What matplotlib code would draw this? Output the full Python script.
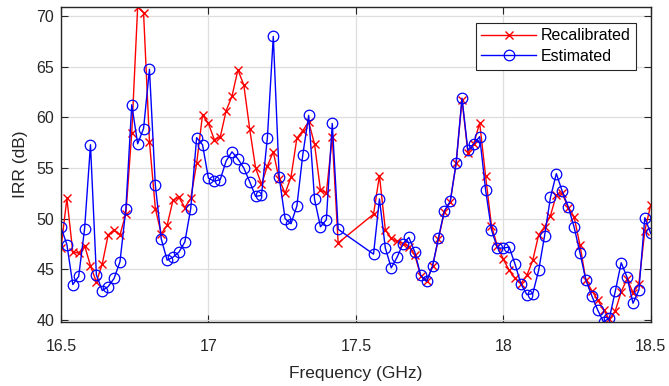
import matplotlib
matplotlib.use("Agg")
import matplotlib.pyplot as plt
import numpy as np

# Frequencies (GHz); 17.46-17.54 absent in the source data
freq = [16.50, 16.52, 16.54, 16.56, 16.58, 16.60, 16.62, 16.64, 16.66, 16.68,
        16.70, 16.72, 16.74, 16.76, 16.78, 16.80, 16.82, 16.84, 16.86, 16.88,
        16.90, 16.92, 16.94, 16.96, 16.98, 17.00, 17.02, 17.04, 17.06, 17.08,
        17.10, 17.12, 17.14, 17.16, 17.18, 17.20, 17.22, 17.24, 17.26, 17.28,
        17.30, 17.32, 17.34, 17.36, 17.38, 17.40, 17.42, 17.44,
        17.56, 17.58, 17.60, 17.62, 17.64, 17.66, 17.68, 17.70, 17.72, 17.74,
        17.76, 17.78, 17.80, 17.82, 17.84, 17.86, 17.88, 17.90, 17.92, 17.94,
        17.96, 17.98, 18.00, 18.02, 18.04, 18.06, 18.08, 18.10, 18.12, 18.14,
        18.16, 18.18, 18.20, 18.22, 18.24, 18.26, 18.28, 18.30, 18.32, 18.34,
        18.36, 18.38, 18.40, 18.42, 18.44, 18.46, 18.48, 18.50]

recalibrated = [47.1, 52.0, 46.7, 46.6, 47.35, 45.35, 43.75, 45.55, 48.4, 48.9,
                48.4, 50.5, 58.5, 70.9, 70.35, 57.6, 51.0, 48.5, 49.35, 51.85,
                52.1, 51.1, 52.0, 55.45, 60.25, 59.4, 57.8, 58.05, 60.65, 62.1,
                64.7, 63.2, 58.85, 55.0, 53.4, 55.2, 56.6, 53.9, 52.5, 54.1,
                57.95, 58.7, 59.55, 57.35, 52.8, 52.55, 58.05, 47.6,
                50.45, 54.25, 48.9, 48.05, 47.75, 47.55, 47.25, 46.4, 44.35, 43.8,
                45.3, 47.95, 50.7, 51.65, 55.45, 61.75, 56.5, 57.4, 59.45, 54.2,
                49.3, 47.3, 46.0, 44.9, 44.1, 43.6, 44.4, 45.9, 48.4, 49.2,
                50.3, 52.35, 52.5, 51.1, 50.2, 47.4, 43.95, 42.9, 42.0, 41.0,
                40.05, 40.9, 42.8, 44.05, 42.7, 43.6, 48.8, 51.35]

estimated = [49.15, 47.45, 43.5, 44.3, 49.0, 57.3, 44.45, 42.9, 43.3, 44.1,
             45.75, 50.95, 61.25, 57.4, 58.9, 64.75, 53.3, 48.0, 45.9, 46.2,
             46.7, 47.7, 51.0, 58.0, 57.3, 54.0, 53.7, 53.85, 55.7, 56.6,
             55.9, 55.0, 53.65, 52.2, 52.3, 58.0, 68.0, 54.1, 50.0, 49.5,
             51.25, 56.3, 60.2, 51.9, 49.2, 49.9, 59.4, 48.95,
             46.5, 51.95, 47.1, 45.15, 46.2, 47.55, 48.15, 46.7, 44.4, 43.8,
             45.3, 48.1, 50.75, 51.7, 55.45, 61.9, 56.75, 57.4, 58.1, 52.85,
             48.9, 47.1, 47.1, 47.2, 45.5, 43.55, 42.5, 42.6, 44.9, 48.3,
             52.1, 54.45, 52.7, 51.2, 49.2, 46.65, 43.95, 42.4, 41.0, 39.8,
             40.2, 42.85, 45.65, 44.2, 41.65, 42.95, 50.1, 48.55]

x_ticks = [16.5, 17.0, 17.5, 18.0, 18.5]
x_tick_labels = ["16.5", "17", "17.5", "18", "18.5"]
y_ticks = [40, 45, 50, 55, 60, 65, 70]

plt.rcParams['font.family'] = ['Liberation Sans', 'DejaVu Sans']

fig = plt.figure(figsize=(6.69, 3.86), dpi=100)
ax = fig.add_axes([61 / 669, 1 - 322 / 386, (650.7 - 61) / 669, (322 - 7) / 386])

axcol = (0.15, 0.15, 0.15)
ax.plot(freq, recalibrated, color=(1, 0, 0), lw=1.0, marker='x', ms=5.2,
        mew=1.0, label='Recalibrated')
ax.plot(freq, estimated, color=(0, 0, 1), lw=1.0, marker='o', ms=7.6,
        mfc='none', mew=0.9, label='Estimated')

allv = recalibrated + estimated
ax.set_xlim(freq[0], freq[-1])
ax.set_ylim(min(allv), max(allv))
ax.set_xticks(x_ticks)
ax.set_xticklabels(x_tick_labels)
ax.set_yticks(y_ticks)

ax.grid(True, color=(0.87, 0.87, 0.87), lw=0.9)
ax.set_axisbelow(True)
for s in ax.spines.values():
    s.set_color(axcol)
    s.set_linewidth(1.0)
ax.tick_params(direction='in', length=5, width=0.8, colors=axcol,
               labelsize=11.5, top=True, right=True, pad=5)
ax.tick_params(axis='x', pad=12)
for lab in ax.get_xticklabels() + ax.get_yticklabels():
    lab.set_color(axcol)

ax.set_xlabel('Frequency (GHz)', fontsize=12.5, color=axcol, labelpad=9)
ax.set_ylabel('IRR (dB)', fontsize=12.5, color=axcol, labelpad=6)

leg = ax.legend(loc='upper right', bbox_to_anchor=(0.975, 0.950), fontsize=11.5,
                fancybox=False, framealpha=1, edgecolor=axcol,
                handlelength=3.4, borderpad=0.35, labelspacing=0.35,
                handletextpad=0.3, borderaxespad=0.0)
leg.get_frame().set_linewidth(0.8)

fig.savefig('out.png', dpi=100)
